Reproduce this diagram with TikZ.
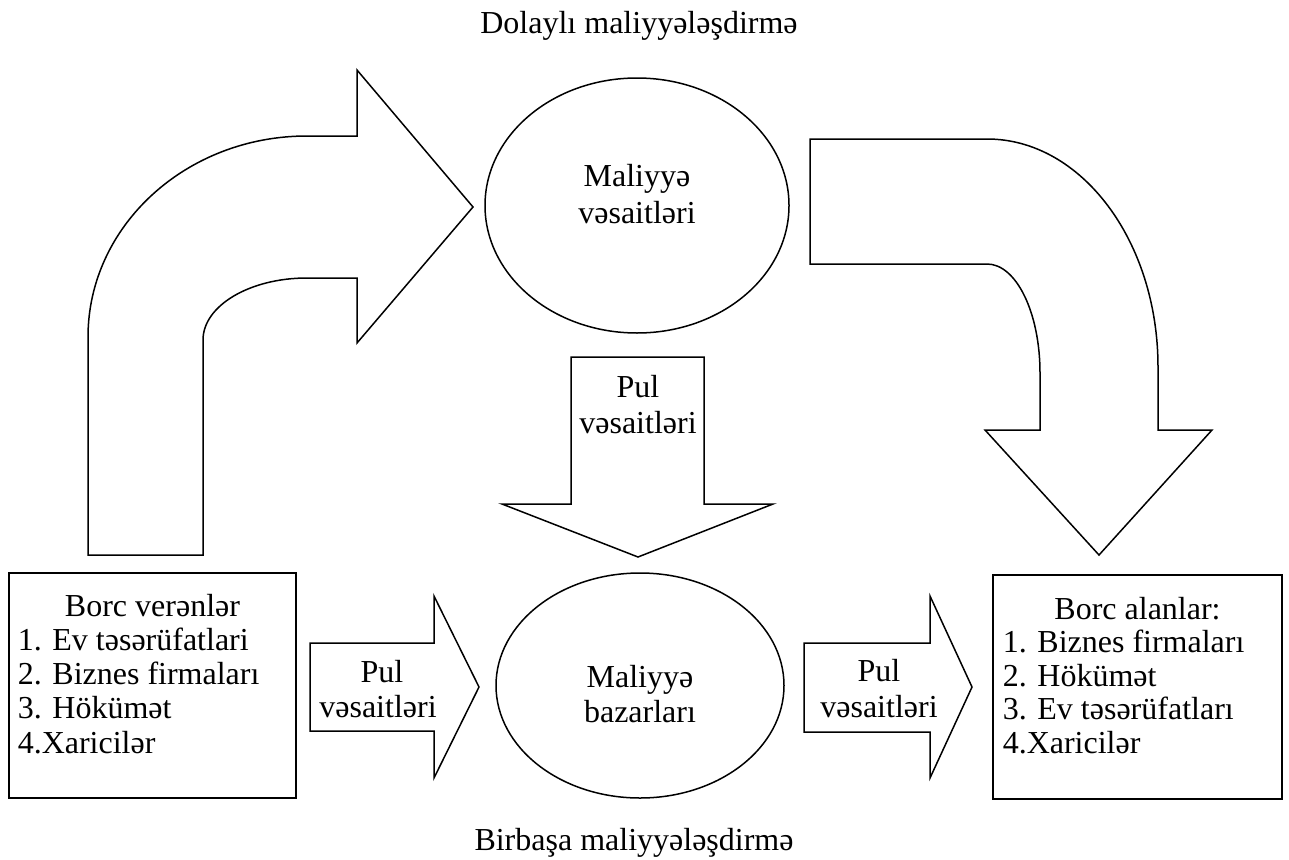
\documentclass[tikz,border=0pt]{standalone}
\usepackage{fontspec}
\setmainfont{Liberation Serif}
\usetikzlibrary{shapes.geometric}
\begin{document}
\begin{tikzpicture}[x=1pt,y=-1pt,line width=1.5pt,line join=miter,
  txt/.style={font=\fontsize{32}{36}\selectfont,inner sep=0pt},
  blockarrow/.style={draw=black,fill=white},
  oval/.style={draw=black,ellipse,inner sep=0pt},
  listbox/.style={draw=black,rectangle,inner sep=0pt}]
\useasboundingbox (0,0) rectangle (1289,859);

% curved arrow, left (up then right)
\draw[blockarrow] (88,555) -- (88,337) .. controls (88,226) and (186,136) .. (307,136)
  -- (357,136) -- (357,70) -- (473,207) -- (357,343) -- (357,278) -- (307,278)
  .. controls (249.6,278) and (203,305.8) .. (203,340) -- (203,555) -- cycle;

% curved arrow, right (right then down)
\draw[blockarrow] (810,139) -- (987,139) .. controls (1081.4,139) and (1158,241.1) .. (1158,367)
  -- (1158,430) -- (1212,430) -- (1099,555) -- (985,430) -- (1040,430) -- (1040,373)
  .. controls (1040,312.8) and (1016.3,264) .. (987,264) -- (810,264) -- cycle;

% middle down arrow
\draw[blockarrow] (571,357) -- (704,357) -- (704,504) -- (773,504) -- (638,557)
  -- (502,504) -- (571,504) -- cycle;

% left horizontal arrow
\draw[blockarrow] (310,643) -- (434,643) -- (434,596) -- (479,687) -- (434,778)
  -- (434,731) -- (310,731) -- cycle;

% right horizontal arrow
\draw[blockarrow] (804,643) -- (930,643) -- (930,596) -- (972,687) -- (930,778)
  -- (930,732) -- (804,732) -- cycle;

% ellipses
\node[oval,minimum width=304pt,minimum height=255pt] (fin) at (637,205.5) {};
\node[oval,minimum width=288pt,minimum height=225pt] (mkt) at (640,685.5) {};

% boxes
\node[listbox,minimum width=287pt,minimum height=225pt] (lend) at (152.5,685.5) {};
\node[listbox,minimum width=289pt,minimum height=224pt] (borr) at (1137.5,687) {};

% titles
\node[txt,anchor=base] (indirect) at (639,34) {Dolaylı maliyyələşdirmə};
\node[txt,anchor=base] (direct) at (634,850) {Birbaşa maliyyələşdirmə};

% ellipse texts
\node[txt,anchor=base] (fin1) at (637,186) {Maliyyə};
\node[txt,anchor=base] (fin2) at (637,223) {vəsaitləri};
\node[txt,anchor=base] (mkt1) at (640,687) {Maliyyə};
\node[txt,anchor=base] (mkt2) at (640,722) {bazarları};

% arrow texts
\node[txt,anchor=base] (pm1) at (638,397) {Pul};
\node[txt,anchor=base] (pm2) at (638,433) {vəsaitləri};
\node[txt,anchor=base] (pl1) at (382,682) {Pul};
\node[txt,anchor=base] (pl2) at (378,717) {vəsaitləri};
\node[txt,anchor=base] (pr1) at (879,681) {Pul};
\node[txt,anchor=base] (pr2) at (879,717) {vəsaitləri};

% left box text
\node[txt,anchor=base] (lh) at (152.5,616) {Borc verənlər};
\node[txt,anchor=base west] (l1) at (17,650) {1. Ev təsərüfatlari};
\node[txt,anchor=base west] (l2) at (17,684) {2. Biznes firmaları};
\node[txt,anchor=base west] (l3) at (17,718) {3. Hökümət};
\node[txt,anchor=base west] (l4) at (17,753) {4.Xaricilər};

% right box text
\node[txt,anchor=base] (rh) at (1137.5,619) {Borc alanlar:};
\node[txt,anchor=base west] (r1) at (1002,652) {1. Biznes firmaları};
\node[txt,anchor=base west] (r2) at (1002,686) {2. Hökümət};
\node[txt,anchor=base west] (r3) at (1002,719) {3. Ev təsərüfatları};
\node[txt,anchor=base west] (r4) at (1002,753) {4.Xaricilər};
\end{tikzpicture}
\end{document}
